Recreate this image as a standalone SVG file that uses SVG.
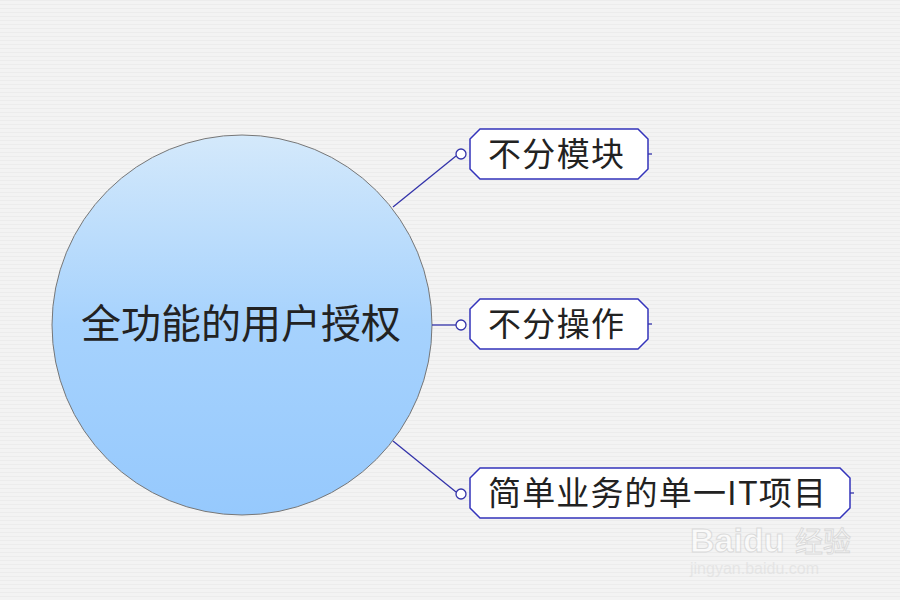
<svg xmlns="http://www.w3.org/2000/svg" width="900" height="600" viewBox="0 0 900 600">
<defs>
<linearGradient id="g" x1="0" y1="0" x2="0" y2="1"><stop offset="0" stop-color="#d4e9fb"/><stop offset="0.5" stop-color="#a6d2fd"/><stop offset="1" stop-color="#96c9fd"/></linearGradient>
<pattern id="bg" width="4" height="4" patternUnits="userSpaceOnUse"><rect width="4" height="4" fill="#f3f3f3"/><rect width="4" height="1" fill="#ececec"/></pattern>
</defs>
<style>
.box{fill:#fff;stroke:#3333bb;stroke-width:1.5}
.ln{stroke:#3333aa;stroke-width:1.3;fill:none}
.dot{fill:#fff;stroke:#3333aa;stroke-width:1.3}
.t{font-family:"Noto Sans CJK SC","Liberation Sans",sans-serif;font-size:33px;fill:#222}
</style>
<rect width="900" height="600" fill="url(#bg)"/>
<g id="center">
<circle cx="242" cy="325" r="190" fill="url(#g)" stroke="#777" stroke-width="1"/>
<text class="t" x="241" y="338" text-anchor="middle" style="font-size:40px">全功能的用户授权</text>
</g>
<g id="connectors">
<path class="ln" d="M393 207 L456 156"/>
<path class="ln" d="M432 325 L456 325"/>
<path class="ln" d="M393 441 L456 492"/>
<circle class="dot" cx="461" cy="154" r="5"/>
<circle class="dot" cx="461" cy="325" r="5"/>
<circle class="dot" cx="461" cy="494" r="5"/>
</g>
<g id="n1">
<path class="box" d="M480 129 H638 L648 139 V169 L638 179 H480 L470 169 V139 Z"/>
<line class="ln" x1="648" y1="154" x2="652" y2="154"/>
<text class="t" x="488" y="166" textLength="136">不分模块</text>
</g>
<g id="n2">
<path class="box" d="M480 299 H638 L648 309 V339 L638 349 H480 L470 339 V309 Z"/>
<line class="ln" x1="648" y1="324" x2="652" y2="324"/>
<text class="t" x="488" y="336" textLength="136">不分操作</text>
</g>
<g id="n3">
<path class="box" d="M480 468 H840 L850 478 V508 L840 518 H480 L470 508 V478 Z"/>
<line class="ln" x1="850" y1="493" x2="854" y2="493"/>
<text class="t" x="488" y="505" textLength="338">简单业务的单一IT项目</text>
</g>
<g id="watermark" opacity="0.6">
<text x="690" y="552" font-family="Liberation Sans,sans-serif" font-size="34" font-weight="bold" fill="#fff" stroke="#ccc" stroke-width="1">Baidu</text>
<text x="795" y="552" font-family="Noto Sans CJK SC,sans-serif" font-size="28" fill="#fff" stroke="#ccc" stroke-width="1">经验</text>
<text x="690" y="574" font-family="Liberation Sans,sans-serif" font-size="16" fill="#ddd">jingyan.baidu.com</text>
</g>
</svg>
